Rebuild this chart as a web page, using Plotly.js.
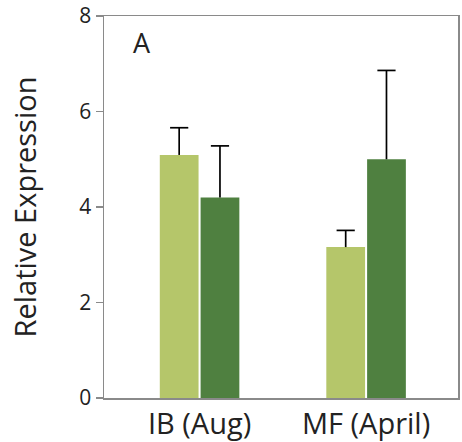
<!DOCTYPE html>
<html><head><meta charset="utf-8">
<script src="https://cdn.plot.ly/plotly-3.0.1.min.js"></script>
<style>html,body{margin:0;padding:0;background:#fff}#c{width:462px;height:442px}</style>
</head><body><div id="c"></div>
<script>
const categories = ["IB (Aug)", "MF (April)"];
const seriesLight = [5.09, 3.16];
const errLight = [0.57, 0.35];
const seriesDark = [4.20, 5.00];
const errDark = [1.08, 1.86];
const yTicks = [0, 2, 4, 6, 8];

const font = "'Open Sans', 'DejaVu Sans', sans-serif";
const stem = (err) => ({type: 'data', symmetric: false, array: err, arrayminus: err.map(() => 0),
                        color: '#000', thickness: 1.7, width: 0});
const tops = (vals, err) => vals.map((v, i) => v + err[i]);
const cap = (vals, err, grp) => ({type: 'scatter', mode: 'markers', x: categories, y: tops(vals, err),
  offsetgroup: grp, marker: {symbol: 'line-ew', size: 13, line: {color: '#000', width: 1.7}},
  hoverinfo: 'skip', cliponaxis: false});
const traces = [
  {type: 'bar', x: categories, y: seriesLight, offsetgroup: 'a', marker: {color: '#b5c66a'}, error_y: stem(errLight)},
  {type: 'bar', x: categories, y: seriesDark, offsetgroup: 'b', marker: {color: '#4f8040'}, error_y: stem(errDark)},
  cap(seriesLight, errLight, 'a'),
  cap(seriesDark, errDark, 'b')
];
const layout = {
  width: 462, height: 442,
  margin: {l: 104, r: 4, t: 16, b: 44},
  showlegend: false,
  barmode: 'group', bargap: 0.51, bargroupgap: 0.05,
  scattermode: 'group', scattergap: 0.51,
  paper_bgcolor: '#fff', plot_bgcolor: '#fff',
  font: {family: font, color: '#222'},
  xaxis: {type: 'category', range: [-0.574, 1.552], showline: true, mirror: true,
          linecolor: '#8a8a8a', linewidth: 1.5, ticks: '', showgrid: false,
          tickfont: {size: 29, family: font, color: '#222'}},
  yaxis: {range: [0, 8], tickvals: yTicks, showline: true, mirror: true,
          linecolor: '#8a8a8a', linewidth: 1.5, ticks: 'outside', ticklen: 7,
          tickcolor: '#8a8a8a', tickwidth: 1.5, showgrid: false, zeroline: false,
          ticklabeloverflow: 'allow',
          tickfont: {size: 21, family: font, color: '#222'},
          title: {text: 'Relative Expression', font: {size: 29, family: font, color: '#222'}, standoff: 34}},
  annotations: [{text: 'A', xref: 'paper', yref: 'paper', x: 0.107, y: 0.93,
                 xanchor: 'center', yanchor: 'middle',
                 showarrow: false, font: {size: 27, family: font, color: '#222'}}]
};
Plotly.newPlot('c', traces, layout, {staticPlot: true});
</script></body></html>
